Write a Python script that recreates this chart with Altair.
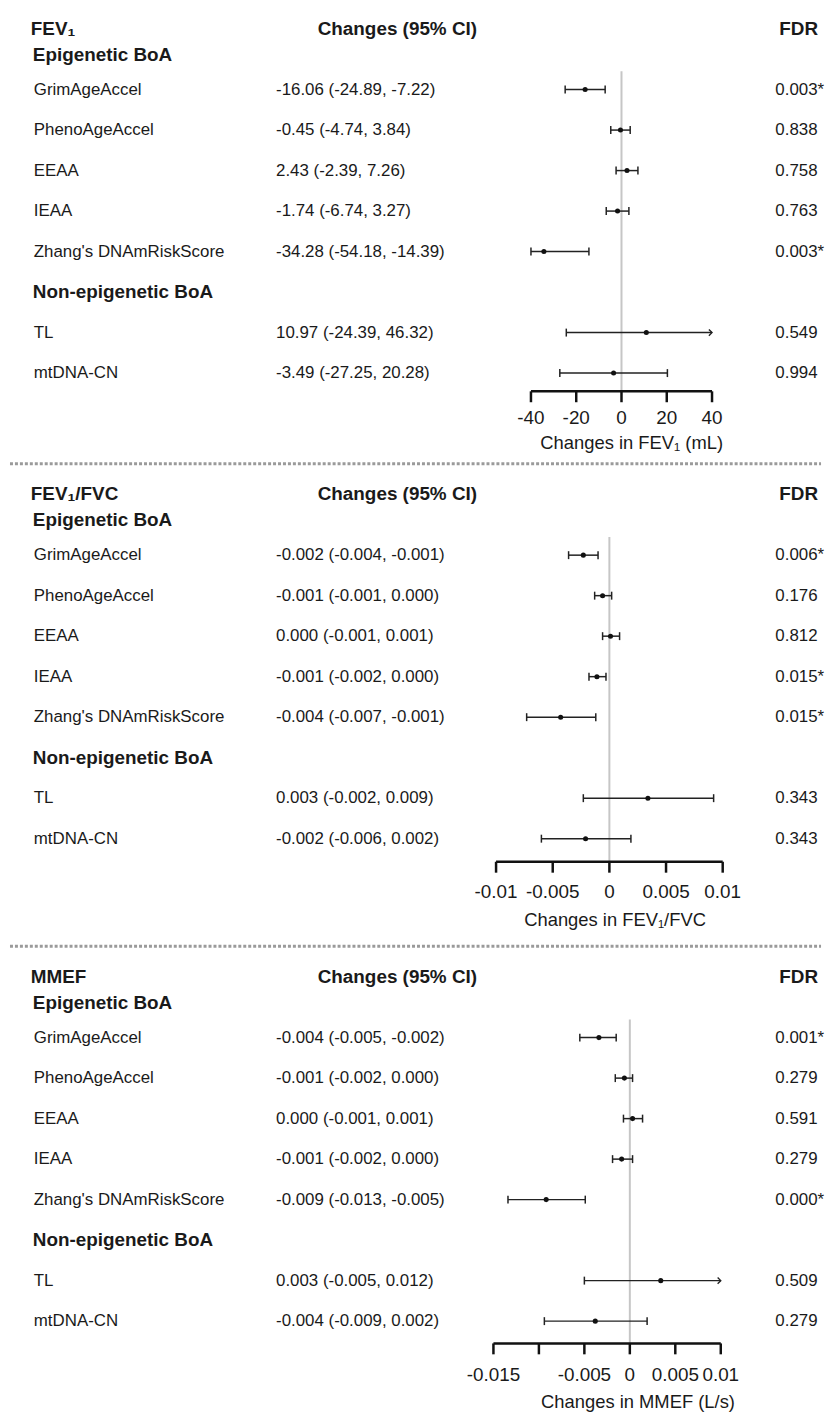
import altair as alt
import pandas as pd

# ---------------- data ----------------
ITEMS = ["GrimAgeAccel", "PhenoAgeAccel", "EEAA", "IEAA",
         "Zhang's DNAmRiskScore", "TL", "mtDNA-CN"]
SECTIONS = ["Epigenetic BoA", "Non-epigenetic BoA"]
PANEL_TITLES = ["FEV\u2081", "FEV\u2081/FVC", "MMEF"]
COL_HEADERS = ["Changes (95%  CI)", "FDR"]
AXIS_TITLES = ["Changes in FEV\u2081 (mL)", "Changes in FEV\u2081/FVC",
               "Changes in MMEF (L/s)"]

fev1_ci = ["-16.06 (-24.89, -7.22)", "-0.45 (-4.74, 3.84)", "2.43 (-2.39, 7.26)",
           "-1.74 (-6.74, 3.27)", "-34.28 (-54.18, -14.39)",
           "10.97 (-24.39, 46.32)", "-3.49 (-27.25, 20.28)"]
fev1_est = [-16.06, -0.45, 2.43, -1.74, -34.28, 10.97, -3.49]
fev1_lo = [-24.89, -4.74, -2.39, -6.74, -54.18, -24.39, -27.25]
fev1_hi = [-7.22, 3.84, 7.26, 3.27, -14.39, 46.32, 20.28]
fev1_fdr = ["0.003*", "0.838", "0.758", "0.763", "0.003*", "0.549", "0.994"]
fev1_ticks = [-40, -20, 0, 20, 40]
fev1_tick_labels = ["-40", "-20", "0", "20", "40"]

ratio_ci = ["-0.002 (-0.004, -0.001)", "-0.001 (-0.001, 0.000)", "0.000 (-0.001, 0.001)",
            "-0.001 (-0.002, 0.000)", "-0.004 (-0.007, -0.001)",
            "0.003 (-0.002, 0.009)", "-0.002 (-0.006, 0.002)"]
ratio_est = [-0.0023, -0.0006, 0.0001, -0.0011, -0.0043, 0.0034, -0.0021]
ratio_lo = [-0.0036, -0.0013, -0.0006, -0.0018, -0.0073, -0.0023, -0.0060]
ratio_hi = [-0.0010, 0.0002, 0.0009, -0.0003, -0.0012, 0.0092, 0.0019]
ratio_fdr = ["0.006*", "0.176", "0.812", "0.015*", "0.015*", "0.343", "0.343"]
ratio_ticks = [-0.01, -0.005, 0, 0.005, 0.01]
ratio_tick_labels = ["-0.01", "-0.005", "0", "0.005", "0.01"]

mmef_ci = ["-0.004 (-0.005, -0.002)", "-0.001 (-0.002, 0.000)", "0.000 (-0.001, 0.001)",
           "-0.001 (-0.002, 0.000)", "-0.009 (-0.013, -0.005)",
           "0.003 (-0.005, 0.012)", "-0.004 (-0.009, 0.002)"]
mmef_est = [-0.0034, -0.0006, 0.0003, -0.0009, -0.0092, 0.0034, -0.0038]
mmef_lo = [-0.0055, -0.0016, -0.0007, -0.0019, -0.0134, -0.0050, -0.0094]
mmef_hi = [-0.0015, 0.0003, 0.0014, 0.0003, -0.0049, 0.0120, 0.0019]
mmef_fdr = ["0.001*", "0.279", "0.591", "0.279", "0.000*", "0.509", "0.279"]
mmef_ticks = [-0.015, -0.01, -0.005, 0, 0.005, 0.01]
mmef_tick_labels = ["-0.015", "", "-0.005", "0", "0.005", "0.01"]

# ---------------- layout / style ----------------
W = 817
ROW_PX = 40.8
FONT = "Liberation Sans"
TXT = "#1a1a1a"
ITEM_ROWS = [0, 1, 2, 3, 4, 6, 7]
SECTION_ROWS = [-0.86, 5]
HEADER_ROW = -1.5

GEOMS = [
    dict(zero=616, ppu=2.28, top=77, height=455, axis=7.45, lab=8.1, ttl=8.72, tx=4.5, sep=True),
    dict(zero=603.8, ppu=11415, top=90, height=485, axis=7.57, lab=8.33, ttl=9.0, tx=0.0005, sep=True),
    dict(zero=624.4, ppu=9160, top=90, height=460, axis=7.55, lab=8.34, ttl=9.0, tx=0.0009, sep=False),
]


def build_panel(title, est, lo, hi, ci, fdr, ticks, tick_labels, axis_title, g):
    r0 = -g["top"] / ROW_PX
    r1 = (g["height"] - g["top"]) / ROW_PX
    x0 = -g["zero"] / g["ppu"]
    x1 = (W - g["zero"]) / g["ppu"]
    xs = alt.Scale(domain=[x0, x1], nice=False, zero=False)
    ys = alt.Scale(domain=[r0, r1], nice=False, zero=False, reverse=True)
    amax = max(ticks)
    amin = min(ticks)

    df = pd.DataFrame({"label": ITEMS, "ci": ci, "fdr": fdr, "est": est,
                       "lo": lo, "hi": hi, "row": ITEM_ROWS})
    df["hi_draw"] = df["hi"].clip(upper=amax)
    df["lo_draw"] = df["lo"].clip(lower=amin)
    df["arrow"] = df["hi"] > amax

    X = lambda f: alt.X(f"{f}:Q", scale=xs, axis=None)
    Y = lambda f: alt.Y(f"{f}:Q", scale=ys, axis=None)

    base = alt.Chart(df)
    zero = alt.Chart(pd.DataFrame({"x": [0], "y": [-0.45], "y2": [g["axis"]]})).mark_rule(
        color="#c6c6c6", strokeWidth=2).encode(x=X("x"), y=Y("y"), y2="y2:Q")
    bars = base.mark_rule(color="#222222", strokeWidth=1.5).encode(
        x=X("lo_draw"), x2="hi_draw:Q", y=Y("row"))
    cap_lo = base.mark_tick(orient="vertical", size=8, thickness=1.5, color="#222222",
                            opacity=1).encode(x=X("lo_draw"), y=Y("row"))
    cap_hi = base.transform_filter("!datum.arrow").mark_tick(
        orient="vertical", size=8, thickness=1.5, color="#222222", opacity=1).encode(
        x=X("hi_draw"), y=Y("row"))
    arrow = base.transform_filter("datum.arrow").mark_point(
        shape="M-1,-1L0,0L-1,1", filled=False, size=40, stroke="#222222",
        strokeWidth=1.4, opacity=1).encode(x=X("hi_draw"), y=Y("row"))
    pts = base.mark_circle(size=26, color="#111111", opacity=1).encode(
        x=X("est"), y=Y("row"))

    txt_kw = dict(align="left", baseline="middle", font=FONT, fontSize=17, color=TXT)
    lab = base.mark_text(**txt_kw).encode(x=alt.value(24), y=Y("row"), text="label:N")
    cit = base.mark_text(**txt_kw).encode(x=alt.value(268), y=Y("row"), text="ci:N")
    fdt = base.mark_text(**txt_kw).encode(x=alt.value(771), y=Y("row"), text="fdr:N")

    bold_kw = dict(baseline="middle", font=FONT, fontSize=19, fontWeight="bold", color=TXT)
    sec = alt.Chart(pd.DataFrame({"t": SECTIONS, "row": SECTION_ROWS})).mark_text(
        align="left", **bold_kw).encode(x=alt.value(23), y=Y("row"), text="t:N")

    hdr_df = pd.DataFrame({"t": [title, COL_HEADERS[0]], "row": [HEADER_ROW] * 2,
                           "px": [21, 310]})
    hdr = alt.Chart(hdr_df).mark_text(align="left", **bold_kw).encode(
        x=alt.X("px:Q", scale=None, axis=None), y=Y("row"), text="t:N")
    fdr_hdr = alt.Chart(pd.DataFrame({"t": [COL_HEADERS[1]], "row": [HEADER_ROW]})).mark_text(
        align="right", **bold_kw).encode(x=alt.value(814), y=Y("row"), text="t:N")

    ax_df = pd.DataFrame({"a": [amin], "b": [amax], "row": [g["axis"]]})
    axline = alt.Chart(ax_df).mark_rule(color="#111111", strokeWidth=2.5).encode(
        x=X("a"), x2="b:Q", y=Y("row"))
    tk_df = pd.DataFrame({"v": ticks, "lab": tick_labels,
                          "r": [g["axis"]] * len(ticks),
                          "r2": [g["axis"] + 11 / ROW_PX] * len(ticks),
                          "lr": [g["lab"]] * len(ticks)})
    tk = alt.Chart(tk_df).mark_rule(color="#111111", strokeWidth=2.5).encode(
        x=X("v"), y=Y("r"), y2="r2:Q")
    tkl = alt.Chart(tk_df).mark_text(align="center", baseline="middle", font=FONT,
                                     fontSize=19, color=TXT).encode(
        x=X("v"), y=Y("lr"), text="lab:N")
    ttl = alt.Chart(pd.DataFrame({"t": [axis_title], "x": [g["tx"]], "r": [g["ttl"]]})).mark_text(
        align="center", baseline="middle", font=FONT, fontSize=18.5, color=TXT).encode(
        x=X("x"), y=Y("r"), text="t:N")

    layers = [zero, bars, cap_lo, cap_hi, arrow, pts, lab, cit, fdt, sec, hdr, fdr_hdr,
              axline, tk, tkl, ttl]
    if g["sep"]:
        sep = alt.Chart(pd.DataFrame({"r": [r1 - 1 / ROW_PX]})).mark_rule(
            color="#9a9a9a", strokeWidth=3, strokeDash=[3, 2]).encode(
            x=alt.value(0), x2=alt.value(W), y=Y("r"))
        layers.append(sep)
    return alt.layer(*layers).properties(width=W, height=g["height"])


panels = [
    build_panel(PANEL_TITLES[0], fev1_est, fev1_lo, fev1_hi, fev1_ci, fev1_fdr,
                fev1_ticks, fev1_tick_labels, AXIS_TITLES[0], GEOMS[0]),
    build_panel(PANEL_TITLES[1], ratio_est, ratio_lo, ratio_hi, ratio_ci, ratio_fdr,
                ratio_ticks, ratio_tick_labels, AXIS_TITLES[1], GEOMS[1]),
    build_panel(PANEL_TITLES[2], mmef_est, mmef_lo, mmef_hi, mmef_ci, mmef_fdr,
                mmef_ticks, mmef_tick_labels, AXIS_TITLES[2], GEOMS[2]),
]

chart = alt.vconcat(*panels, spacing=0).properties(
    padding=0, background="white").configure_view(strokeWidth=0, stroke="transparent")

chart.save("out.html", embed_options={"renderer": "svg", "actions": False})
